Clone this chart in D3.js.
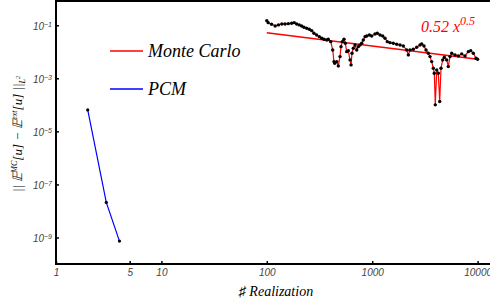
<!DOCTYPE html>
<html>
<head>
<meta charset="utf-8">
<script src="https://cdn.jsdelivr.net/npm/d3@7"></script>
<style>
  body { margin: 0; background: #fff; }
  svg { display: block; }
  .tick text { font-family: "Liberation Sans"; font-style: italic; font-size: 10px; fill: #444; }
</style>
</head>
<body>
<svg width="490" height="307"></svg>
<script>
"use strict";

// tick values
var xTicks = [1, 5, 10, 100, 1000, 10000];
var yTicks = [1e-1, 1e-3, 1e-5, 1e-7, 1e-9];

// PCM error vs number of realizations
var pcmN = [2, 3, 4];
var pcmErr = [6.4e-5, 2.1e-8, 7.3e-10];

// Monte Carlo error
var mcN = [100, 103, 111, 120, 129, 139, 149, 160, 172, 182, 192, 203, 214, 225, 239, 253, 267, 280, 297, 315,
  332, 349, 370, 383, 404, 422, 434, 441, 461, 477, 495, 506, 520, 540, 556, 573, 593, 616, 630, 643,
  662, 687, 713, 738, 766, 795, 823, 855, 887, 939, 989, 1063, 1118, 1186, 1258, 1323, 1391, 1476, 1586, 1708,
  1835, 1973, 2125, 2201, 2284, 2454, 2644, 2841, 2949, 3101, 3239, 3406, 3535, 3668, 3799, 3883, 3969, 4093, 4238, 4370,
  4496, 4667, 4833, 5092, 5273, 5473, 5680, 6105, 6560, 7067, 7595, 8162, 8602, 9104, 9656, 10000];
var mcErr = [0.149, 0.125, 0.109, 0.0941, 0.103, 0.112, 0.112, 0.115, 0.119, 0.125, 0.112, 0.103, 0.0941, 0.0841, 0.0771, 0.0707, 0.0626, 0.0500, 0.0431, 0.0372,
  0.0324, 0.0297, 0.0279, 0.0297, 0.0241, 0.0117, 0.00426, 0.00370, 0.00426, 0.00293, 0.00657, 0.0156, 0.0241, 0.0297, 0.0210, 0.0101, 0.0110, 0.00493, 0.00320, 0.00882,
  0.0136, 0.0181, 0.0117, 0.0156, 0.0181, 0.0210, 0.0279, 0.0372, 0.0395, 0.0431, 0.0395, 0.0470, 0.0500, 0.0431, 0.0395, 0.0324, 0.0241, 0.0221, 0.0210, 0.0192,
  0.0181, 0.0166, 0.0117, 0.00761, 0.0117, 0.0125, 0.0148, 0.0181, 0.0198, 0.0166, 0.0117, 0.00882, 0.00657, 0.00426, 0.00240, 0.00156, 0.000100, 0.00207, 0.00156, 0.000133,
  0.00240, 0.00493, 0.00623, 0.00493, 0.00276, 0.00657, 0.00882, 0.00761, 0.00698, 0.00830, 0.00698, 0.0101, 0.0110, 0.00882, 0.00572, 0.00524];

// fitted line 0.52 x^-0.5, end points
var fitN = [100, 10000];
var fitErr = [0.052, 0.0052];

(function() {

  var svg = d3.select("svg");
  var marginLeft = 56, marginTop = 1, axisY = 264;
  var serif = "'Liberation Serif', serif";

  var x = d3.scaleLog().domain([1, 14000]).range([marginLeft, marginLeft + 105.4 * Math.log10(14000)]);
  var y = d3.scaleLog().domain([1e-10, 0.82]).range([axisY, marginTop]);

  // x axis
  var xAxis = svg.append("g")
    .attr("transform", "translate(0," + axisY + ")")
    .call(d3.axisBottom(x).tickValues(xTicks).tickFormat(d3.format("d")).tickSize(-3).tickSizeOuter(0).tickPadding(5));
  xAxis.select(".domain").remove();
  xAxis.selectAll(".tick line").attr("stroke", "#000").attr("stroke-width", 1.5);

  // y axis
  var yAxis = svg.append("g")
    .attr("transform", "translate(" + marginLeft + ",0)")
    .call(d3.axisLeft(y).tickValues(yTicks).tickSize(-3).tickSizeOuter(0).tickPadding(4));
  yAxis.select(".domain").remove();
  yAxis.selectAll(".tick line").attr("stroke", "#000").attr("stroke-width", 1.5);
  yAxis.selectAll(".tick text").each(function(d) {
    var t = d3.select(this).text("");
    t.attr("dy", "0.45em");
    t.append("tspan").text("10");
    t.append("tspan").attr("dy", "-0.45em").style("font-size", "7px").text("\u2212" + Math.round(-Math.log10(d)));
  });

  // frame
  svg.append("path")
    .attr("d", "M495," + marginTop + "H" + marginLeft + "V" + axisY + "H495")
    .attr("fill", "none")
    .attr("stroke", "#000")
    .attr("stroke-width", 2);

  var line = d3.line()
    .x(function(d) { return x(d[0]); })
    .y(function(d) { return y(d[1]); });

  var mc = d3.zip(mcN, mcErr);
  var pcm = d3.zip(pcmN, pcmErr);

  svg.append("path")
    .attr("d", line(mc))
    .attr("fill", "none")
    .attr("stroke", "#f00")
    .attr("stroke-width", 1.2);

  svg.append("path")
    .attr("d", line(d3.zip(fitN, fitErr)))
    .attr("fill", "none")
    .attr("stroke", "#f00")
    .attr("stroke-width", 1.5);

  svg.append("path")
    .attr("d", line(pcm))
    .attr("fill", "none")
    .attr("stroke", "#00f")
    .attr("stroke-width", 1.2);

  svg.selectAll(".mcdot")
    .data(mc)
    .enter().append("circle")
    .attr("class", "mcdot")
    .attr("cx", function(d) { return x(d[0]); })
    .attr("cy", function(d) { return y(d[1]); })
    .attr("r", 1.7)
    .attr("fill", "#000");

  svg.selectAll(".pcmdot")
    .data(pcm)
    .enter().append("circle")
    .attr("class", "pcmdot")
    .attr("cx", function(d) { return x(d[0]); })
    .attr("cy", function(d) { return y(d[1]); })
    .attr("r", 1.6)
    .attr("fill", "#000");

  // legend
  var legend = [{name: "Monte Carlo", color: "#f00", y: 51}, {name: "PCM", color: "#00f", y: 89}];
  var lg = svg.selectAll(".legend")
    .data(legend)
    .enter().append("g")
    .attr("class", "legend");
  lg.append("line")
    .attr("x1", 110).attr("x2", 143)
    .attr("y1", function(d) { return d.y; })
    .attr("y2", function(d) { return d.y; })
    .attr("stroke", function(d) { return d.color; })
    .attr("stroke-width", 1.3);
  lg.append("text")
    .style("font-family", serif)
    .style("font-style", "italic")
    .style("font-size", "18px")
    .attr("x", 148)
    .attr("y", function(d) { return d.y + 6; })
    .attr("fill", "#000")
    .text(function(d) { return d.name; });

  // fit label
  var fl = svg.append("text")
    .style("font-family", serif)
    .style("font-style", "italic")
    .style("font-size", "16px")
    .attr("x", 421)
    .attr("y", 32)
    .attr("fill", "#f00");
  fl.append("tspan").text("0.52 x");
  fl.append("tspan").attr("dy", -7).style("font-size", "12px").text("0.5");

  // x title
  svg.append("text")
    .style("font-family", serif)
    .style("font-style", "italic")
    .style("font-size", "14px")
    .attr("x", 276)
    .attr("y", 296)
    .attr("text-anchor", "middle")
    .text("\u266F Realization");

  // y title
  var yt = svg.append("text")
    .style("font-family", serif)
    .style("font-style", "italic")
    .style("font-size", "13px")
    .attr("transform", "translate(22,134) rotate(-90)")
    .attr("text-anchor", "middle");
  yt.append("tspan").text("||  \uD835\uDD3C");
  yt.append("tspan").attr("dy", -5).style("font-size", "8px").text("MC");
  yt.append("tspan").attr("dy", 5).text("[u]  \u2212  \uD835\uDD3C");
  yt.append("tspan").attr("dy", -5).style("font-size", "8px").text("ext");
  yt.append("tspan").attr("dy", 5).text("[u]  ||");
  yt.append("tspan").attr("dy", 3).style("font-size", "8px").text("L");
  yt.append("tspan").attr("dy", -5).style("font-size", "6px").text("2");
})();
</script>
</body>
</html>
